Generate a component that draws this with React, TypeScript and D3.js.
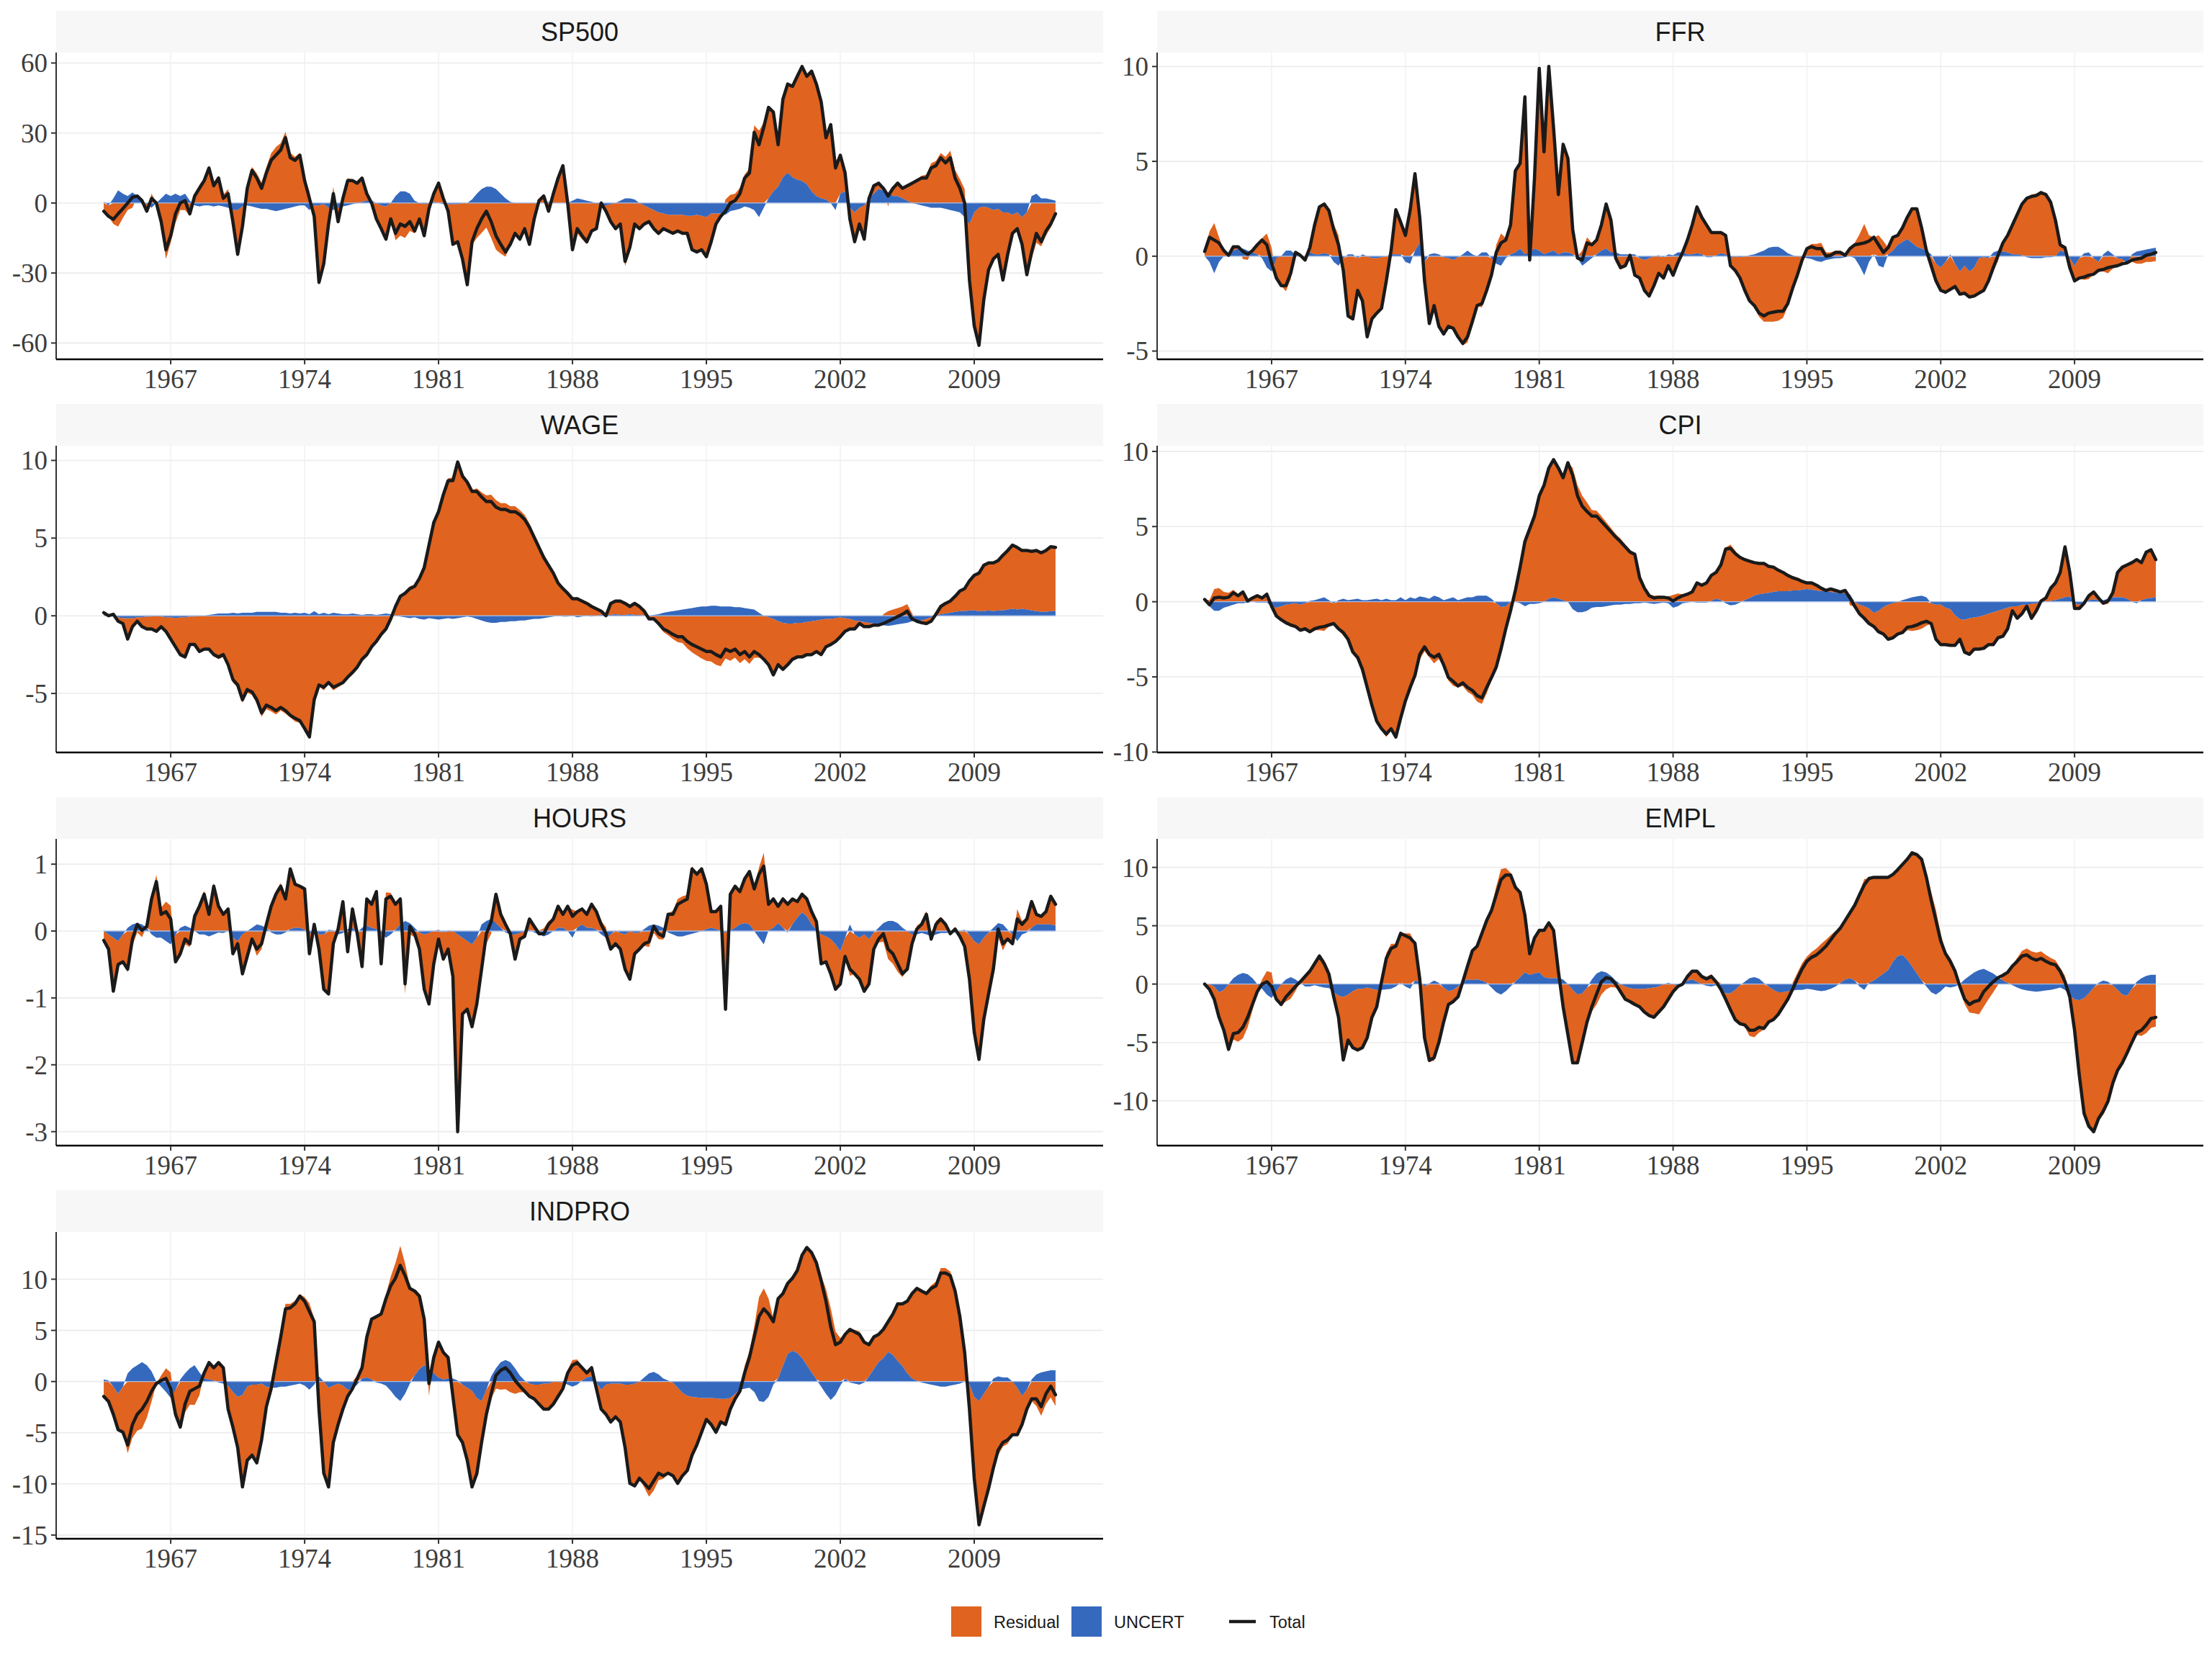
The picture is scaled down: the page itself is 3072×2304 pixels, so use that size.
import React from 'react'
import * as d3 from 'd3'

// quarterly observations, the first one is 1963 Q3
const firstObs = 1963.5
const obsStep = 0.25

const yearTicks = [1967, 1974, 1981, 1988, 1995, 2002, 2009]

const sp500Total = [
  -3.5, -5.7,
  -7, -4.6, -2.4, 0,
  2.5, 3, 1, -3.5,
  2, 0, -8, -20,
  -14, -4.6, 0, 1,
  -4.6, 3, 6.3, 9.6,
  15, 7.4, 10.7, 2,
  4, -8, -22, -10,
  6.3, 14, 10.7, 6.3,
  12.9, 18.3, 20.5, 22.7,
  28, 19.4, 18.3, 20.5,
  9.6, 2, -5.7, -34,
  -26, -9, 4, -8,
  2, 9.6, 9.6, 8.5,
  10.7, 4, 0, -6.8,
  -11, -15.5, -6.8, -13,
  -9, -10, -8, -12,
  -6.8, -14, -2.4, 4,
  8.5, 2, -3.5, -17.7,
  -16.6, -24, -35, -16.6,
  -11, -6.8, -3.5, -8,
  -14, -17.7, -21, -17.7,
  -13, -15.5, -11, -17.7,
  -6.8, 1, 3, -3.5,
  4, 10.7, 16, 0,
  -20, -11, -14, -16.6,
  -12, -11, 0, -3.5,
  -8, -11, -9, -25,
  -19, -9, -11, -9,
  -8, -11, -13, -11,
  -12, -13, -12, -13,
  -13, -20, -21, -20,
  -23, -16.6, -9, -5.7,
  -3.5, 0, 1, 4,
  10.7, 12.9, 30.3, 25,
  32.5, 41, 39, 25,
  44.5, 51, 50, 54.3,
  58.5, 54.3, 56.5, 51,
  43.4, 28, 33.6, 15,
  20.5, 12.9, -6.8, -16.6,
  -9, -15.5, 2, 7.4,
  8.5, 6.3, 3, 6.3,
  8.5, 6.3, 7.4, 8.5,
  9.6, 10.7, 10.7, 15,
  16, 19.4, 17.2, 19.4,
  10.7, 6.3, 0, -33,
  -52.6, -61, -41.5, -28.6,
  -24, -22, -33, -22,
  -13, -11, -17.7, -30.7,
  -21, -13, -16.6, -12,
  -9, -4.6,
]
const sp500Uncert = [
  0.5, -1,
  2, 5.5, 4, 3,
  4.5, 3, 1, -0.5,
  -2, 0, 2, 4,
  3, 4, 3, 4,
  1, -1, -1.5, -1,
  -1, -1.5, -1, -1.5,
  -2, -3, -3, -1.5,
  -1, -1.5, -2, -2.5,
  -2.5, -3, -3.5, -3,
  -2.5, -2, -1.5, -1,
  -1, -3, -1, -1,
  -0.5, -2, -3, -2,
  -1.5, -1, -0.5, 0,
  0.5, 1, 1, 0,
  -1, -1.5, 0, 3,
  5, 5, 4, 1,
  0, -0.5, 0, 0.5,
  0, -0.5, -0.5, -0.5,
  -0.5, 0, 0, 1.5,
  4, 6, 7, 7,
  6, 4, 2, 0.5,
  0, 0, 0, 0,
  0, 0, 0, 0.5,
  0, 0, 0, 0,
  1, 2, 1.5, 1,
  0.5, 0, -1, -1,
  -0.5, 0, 1, 2,
  2, 1.5, 0, -1,
  -2, -3, -4, -4.5,
  -5, -5, -5, -5,
  -5.5, -5.5, -5, -5.5,
  -6, -4.5, -4.5, -4.5,
  -5, -3.5, -3, -2.5,
  -1.5, -2, -3, -6,
  -2, 2, 5, 7,
  11, 13, 11, 10,
  9.5, 8, 5, 3,
  2, 1.5, 0, -3,
  4, 5, -2, -4,
  -2, -1, 2, 4,
  6, 5.5, 4.5, 3,
  3, 2, 1, 0,
  -0.5, -1, -1.5, -2,
  -2, -2, -2.5, -3,
  -3.5, -4, -6, -9,
  -4, -2, -1.5, -2,
  -3, -2.5, -4, -4,
  -5, -4, -6, -4,
  3, 4, 2, 2,
  1.5, 1,
]
const sp500Ticks = [-60, -30, 0, 30, 60]

const ffrTotal = [
  0.25, 1.0,
  0.85, 0.7, 0.3, 0.05,
  0.5, 0.5, 0.25, 0.1,
  0.3, 0.6, 0.85, 0.6,
  -0.35, -1.15, -1.55, -1.55,
  -0.9, 0.2, 0.05, -0.2,
  0.45, 1.65, 2.6, 2.75,
  2.4, 1.4, 0.6, -0.75,
  -3.15, -3.3, -1.8, -2.35,
  -4.25, -3.3, -3.0, -2.75,
  -1.3, 0.3, 2.45, 1.8,
  1.1, 2.45, 4.35, 2.05,
  -1.3, -3.55, -2.6, -3.7,
  -4.1, -3.7, -3.8, -4.25,
  -4.6, -4.25, -3.45, -2.6,
  -2.5, -1.8, -1.0, 0.2,
  0.7, 0.85, 1.65, 4.5,
  4.9, 8.4, -0.2, 4.1,
  9.9, 5.5, 10.0, 6.75,
  3.25, 5.9, 5.15, 1.4,
  -0.1, -0.2, 0.7, 0.6,
  0.85, 1.65, 2.75, 1.9,
  -0.1, -0.6, -0.5, 0.05,
  -1.0, -1.15, -1.8, -2.1,
  -1.55, -0.9, -1.15, -0.5,
  -1.0, -0.35, 0.2, 0.85,
  1.65, 2.6, 2.05, 1.65,
  1.25, 1.25, 1.25, 1.1,
  -0.5, -0.75, -1.15, -1.8,
  -2.35, -2.6, -3.0, -3.15,
  -3.0, -2.95, -2.9, -2.9,
  -2.5, -1.7, -1.0, -0.2,
  0.4, 0.5, 0.4, 0.4,
  0, 0.05, 0.2, 0.2,
  0.05, 0.4, 0.6, 0.65,
  0.7, 0.8, 1.0, 0.6,
  0.2, 0.45, 1.0, 1.1,
  1.5, 2.05, 2.5, 2.5,
  1.5, 0.3, -0.5, -1.3,
  -1.8, -1.9, -1.75, -1.6,
  -2.0, -1.95, -2.15, -2.1,
  -1.95, -1.8, -1.3, -0.6,
  0.05, 0.7, 1.1, 1.65,
  2.2, 2.75, 3.05, 3.15,
  3.2, 3.35, 3.25, 2.85,
  1.9, 0.6, 0.45, -0.6,
  -1.3, -1.15, -1.1, -1.0,
  -0.95, -0.75, -0.7, -0.6,
  -0.55, -0.5, -0.4, -0.35,
  -0.2, -0.15, -0.1, 0.05,
  0.1, 0.2,
]
const ffrUncert = [
  0, -0.3,
  -0.9, -0.3, 0, 0.1,
  0.3, 0.4, 0.4, 0.3,
  0.2, 0.1, -0.1, -0.6,
  -0.8, -0.1, 0, 0.3,
  0.3, 0.1, 0, 0,
  0.2, 0.1, 0.1, 0.15,
  0.1, -0.3, -0.5, -0.1,
  0.1, 0.1, -0.1, 0.1,
  0, -0.1, -0.1, -0.05,
  0, 0.1, 0.1, 0.1,
  -0.3, -0.4, 0.3, 0.7,
  -0.3, 0.1, 0.15, 0.1,
  -0.05, -0.1, -0.2, -0.05,
  0.1, 0.3, 0.1, 0,
  0.2, 0.2, -0.1, -0.4,
  -0.5, -0.1, 0.1, 0.2,
  0.4, 0.1, 0.2, 0.4,
  0.3, 0.1, 0.2, 0.3,
  0.1, 0.2, 0.2, 0.1,
  -0.1, -0.5, -0.3, -0.1,
  0.1, 0.3, 0.4, 0.2,
  0.2, 0.1, 0.1, 0.1,
  0.1, -0.1, -0.2, -0.1,
  0, 0.05, -0.05, 0.1,
  0.05, 0.2, 0.2, 0.1,
  0.1, 0.15, 0.1, -0.05,
  -0.05, 0.05, 0.15, 0.1,
  -0.1, 0, -0.05, 0,
  0.05, 0.1, 0.2, 0.3,
  0.45, 0.5, 0.5, 0.35,
  0.15, 0.05, 0, -0.05,
  -0.1, -0.15, -0.25, -0.3,
  -0.2, -0.15, -0.1, -0.1,
  -0.05, 0, -0.1, -0.5,
  -1.0, -0.3, 0.1, -0.5,
  -0.6, 0.1, 0.3, 0.6,
  0.75, 0.9, 0.7, 0.5,
  0.4, 0.3, 0.1, -0.4,
  -0.6, -0.3, 0.1, -0.4,
  -0.8, -0.5, -0.8, -0.6,
  -0.1, -0.05, -0.1, 0.2,
  0.3, 0.25, 0.2, 0.1,
  0.1, 0.05, -0.05, -0.1,
  -0.1, -0.1, -0.05, -0.05,
  0, 0.3, 0.2, -0.1,
  -0.5, -0.1, 0.15, 0.2,
  -0.1, -0.3, 0.1, 0.3,
  0.1, -0.1, -0.15, -0.4,
  0.1, 0.25, 0.3, 0.35,
  0.4, 0.45,
]
const ffrTicks = [-5, 0, 5, 10]

const wageTotal = [
  0.2, 0,
  0.1, -0.35, -0.5, -1.5,
  -0.7, -0.35, -0.7, -0.85,
  -0.85, -1.0, -0.7, -1.0,
  -1.5, -2.0, -2.5, -2.65,
  -1.85, -1.85, -2.3, -2.15,
  -2.15, -2.5, -2.65, -2.5,
  -3.15, -4.1, -4.45, -5.4,
  -4.75, -4.9, -5.4, -6.25,
  -5.75, -5.9, -6.1, -5.9,
  -6.1, -6.4, -6.6, -6.75,
  -7.25, -7.8, -5.4, -4.45,
  -4.6, -4.3, -4.6, -4.45,
  -4.3, -3.95, -3.65, -3.3,
  -2.8, -2.5, -2.0, -1.65,
  -1.2, -0.85, -0.2, 0.6,
  1.25, 1.45, 1.75, 1.9,
  2.4, 3.1, 4.55, 6.0,
  6.7, 7.8, 8.7, 8.7,
  9.9, 9.0, 8.6, 8.0,
  8.0, 7.65, 7.35, 7.35,
  7.0, 6.85, 6.85, 6.7,
  6.7, 6.5, 6.2, 5.7,
  5.05, 4.4, 3.75, 3.25,
  2.75, 2.1, 1.75, 1.45,
  1.1, 1.1, 0.95, 0.8,
  0.6, 0.45, 0.3, 0,
  0.8, 0.95, 0.95, 0.8,
  0.6, 0.8, 0.6, 0.3,
  -0.2, -0.2, -0.5, -0.85,
  -1.0, -1.2, -1.35, -1.35,
  -1.65, -1.85, -2.0, -2.15,
  -2.3, -2.3, -2.5, -2.65,
  -2.15, -2.3, -2.15, -2.5,
  -2.3, -2.65, -2.3, -2.5,
  -2.8, -3.15, -3.8, -3.15,
  -3.45, -3.15, -2.8, -2.65,
  -2.65, -2.5, -2.5, -2.3,
  -2.5, -2.0, -1.85, -1.65,
  -1.35, -1.0, -0.85, -0.85,
  -0.5, -0.7, -0.7, -0.6,
  -0.6, -0.5, -0.35, -0.2,
  -0.05, 0.1, 0.3, -0.2,
  -0.35, -0.45, -0.5, -0.35,
  0.1, 0.6, 0.8, 0.95,
  1.25, 1.6, 1.75, 2.25,
  2.6, 2.75, 3.25, 3.4,
  3.4, 3.55, 3.9, 4.2,
  4.55, 4.4, 4.2, 4.2,
  4.15, 4.2, 4.05, 4.2,
  4.45, 4.4,
]
const wageUncert = [
  0, 0,
  -0.05, -0.1, -0.15, -0.15,
  -0.15, -0.1, -0.1, -0.05,
  -0.05, 0, -0.05, -0.1,
  -0.1, -0.15, -0.1, -0.1,
  -0.05, -0.05, 0, 0,
  0.05, 0.1, 0.15, 0.15,
  0.15, 0.2, 0.15, 0.2,
  0.2, 0.2, 0.25, 0.25,
  0.25, 0.25, 0.25, 0.2,
  0.2, 0.15, 0.2, 0.15,
  0.2, 0.1, 0.3, 0.1,
  0.2, 0.1, 0.2, 0.15,
  0.1, 0.1, 0.15, 0.1,
  0.05, 0.1, 0.1, 0.05,
  0.1, 0.15, 0.1, 0,
  -0.05, -0.1, -0.15, -0.1,
  -0.2, -0.25, -0.15, -0.2,
  -0.25, -0.2, -0.15, -0.2,
  -0.15, -0.1, -0.05, -0.1,
  -0.2, -0.3, -0.4, -0.45,
  -0.45, -0.4, -0.4, -0.35,
  -0.35, -0.3, -0.3, -0.25,
  -0.2, -0.2, -0.15, -0.1,
  -0.05, 0, -0.05, -0.05,
  0, -0.1, -0.05, 0,
  -0.05, 0, 0.05, 0.05,
  0.05, 0.1, 0.05, 0.05,
  0.1, 0.05, 0.05, 0,
  0, 0.05, 0.1, 0.2,
  0.25, 0.3, 0.35, 0.4,
  0.45, 0.5, 0.55, 0.6,
  0.6, 0.65, 0.65, 0.6,
  0.6, 0.6, 0.55, 0.55,
  0.5, 0.45, 0.4, 0.2,
  0, -0.1, -0.2, -0.35,
  -0.45, -0.5, -0.5, -0.45,
  -0.45, -0.4, -0.35, -0.3,
  -0.25, -0.2, -0.2, -0.15,
  -0.1, -0.15, -0.2, -0.3,
  -0.35, -0.4, -0.45, -0.5,
  -0.55, -0.6, -0.65, -0.6,
  -0.55, -0.5, -0.45, -0.35,
  -0.3, -0.3, -0.2, -0.1,
  0, 0.1, 0.15, 0.2,
  0.25, 0.3, 0.3, 0.35,
  0.35, 0.3, 0.3, 0.35,
  0.3, 0.35, 0.35, 0.4,
  0.45, 0.4, 0.45, 0.4,
  0.35, 0.3, 0.25, 0.25,
  0.3, 0.3,
]
const wageTicks = [-5, 0, 5, 10]

const cpiTotal = [
  0.15, -0.2,
  0.25, 0.3, 0.25, 0.3,
  0.6, 0.4, 0.65, 0.05,
  0.25, 0.4, 0.25, 0.5,
  -0.3, -0.95, -1.2, -1.4,
  -1.55, -1.65, -1.9, -1.8,
  -2.0, -1.8, -1.7, -1.65,
  -1.55, -1.45, -1.8, -2.05,
  -2.5, -3.35, -3.7, -4.5,
  -5.7, -6.9, -7.95, -8.45,
  -8.8, -8.45, -9.0, -7.75,
  -6.6, -5.7, -4.9, -3.5,
  -3.0, -3.5, -3.7, -3.5,
  -4.2, -5.05, -5.3, -5.6,
  -5.4, -5.7, -5.9, -6.25,
  -6.4, -5.7, -5.05, -4.35,
  -3.15, -1.8, -0.6, 0.75,
  2.3, 4.0, 4.85, 5.7,
  7.05, 7.75, 8.9, 9.45,
  8.9, 8.25, 9.25, 8.4,
  7.05, 6.35, 6.0, 5.7,
  5.7, 5.35, 5.0, 4.65,
  4.3, 4.0, 3.65, 3.3,
  3.15, 1.6, 0.9, 0.4,
  0.25, 0.3, 0.3, 0.25,
  0.05, 0.25, 0.4, 0.5,
  0.65, 1.25, 1.1, 1.25,
  1.75, 1.95, 2.45, 3.5,
  3.55, 3.2, 2.95, 2.8,
  2.7, 2.6, 2.55, 2.55,
  2.35, 2.3, 2.1, 1.95,
  1.75, 1.6, 1.5, 1.35,
  1.25, 1.25, 1.1, 0.9,
  0.75, 0.85, 0.75, 0.65,
  0.75, 0.25, -0.3, -0.8,
  -1.1, -1.45, -1.65, -2.0,
  -2.15, -2.5, -2.4, -2.15,
  -2.05, -1.7, -1.65, -1.55,
  -1.4, -1.3, -1.45, -2.5,
  -2.85, -2.85, -2.9, -2.9,
  -2.5, -3.35, -3.5, -3.15,
  -3.15, -3.1, -2.85, -2.85,
  -2.4, -2.3, -1.8, -0.6,
  -1.1, -0.8, -0.3, -1.1,
  -0.6, 0.05, 0.25, 0.9,
  1.25, 1.95, 3.65, 1.95,
  -0.45, -0.45, -0.1, 0.4,
  0.65, 0.25, -0.1, 0.05,
  0.6, 1.95, 2.3, 2.45,
  2.6, 2.8, 2.6, 3.3,
  3.45, 2.8,
]
const cpiUncert = [
  0, -0.3,
  -0.6, -0.6, -0.4, -0.3,
  -0.2, -0.1, -0.1, -0.05,
  0, -0.05, -0.05, -0.05,
  -0.3, -0.4, -0.3, -0.2,
  -0.15, -0.1, -0.2, -0.1,
  0.05, 0.1, 0.2, 0.3,
  0.1, -0.1, 0.1, 0.2,
  0.1, 0.15, 0.2, 0.1,
  0.1, 0.15, 0.2, 0.1,
  0.2, 0.1, 0.1, 0.3,
  0.1, 0.3, 0.2, 0.35,
  0.3, 0.2, 0.4, 0.3,
  0.1, 0.2, 0.3, 0.1,
  0.2, 0.3, 0.3, 0.4,
  0.4, 0.4, 0.2, -0.1,
  -0.35, -0.3, 0, 0,
  -0.1, -0.3, -0.15, -0.15,
  -0.1, 0, 0.2, 0.3,
  0.2, 0.1, 0, -0.5,
  -0.7, -0.7, -0.6, -0.4,
  -0.35, -0.35, -0.3, -0.25,
  -0.2, -0.2, -0.15, -0.15,
  -0.1, -0.1, -0.05, -0.1,
  -0.15, -0.1, -0.05, -0.1,
  -0.4, -0.3, -0.1, -0.05,
  0, -0.05, -0.05, -0.05,
  0.05, 0.2, 0.1, -0.1,
  -0.25, -0.2, -0.05, 0.1,
  0.25, 0.4, 0.5, 0.55,
  0.6, 0.65, 0.7, 0.7,
  0.7, 0.75, 0.75, 0.8,
  0.85, 0.8, 0.75, 0.7,
  0.7, 0.65, 0.6, 0.6,
  0.55, 0.5, 0, -0.2,
  -0.3, -0.45, -0.75, -0.6,
  -0.35, -0.2, -0.1, 0,
  0.1, 0.2, 0.3, 0.35,
  0.4, 0.3, -0.1, -0.2,
  -0.2, -0.4, -0.5, -0.9,
  -1.15, -1.2, -1.1, -1.05,
  -1.0, -0.9, -0.8, -0.7,
  -0.6, -0.5, -0.4, -0.3,
  -0.3, -0.2, -0.2, -0.15,
  -0.1, -0.05, 0, 0.05,
  0.1, 0.2, 0.3, 0.35,
  -0.1, -0.2, -0.1, 0.1,
  0.15, 0.1, 0.1, 0.2,
  0.3, 0.3, 0.3, 0.2,
  0, -0.1, 0.1, 0.2,
  0.25, 0.3,
]
const cpiTicks = [-10, -5, 0, 5, 10]

const hoursTotal = [
  -0.14, -0.27,
  -0.9, -0.5, -0.46, -0.57,
  -0.12, 0.1, 0.01, 0.07,
  0.48, 0.74, 0.25, 0.29,
  0.18, -0.46, -0.34, -0.12,
  -0.19, 0.22, 0.37, 0.55,
  0.25, 0.67, 0.37, 0.25,
  0.33, -0.34, -0.19, -0.64,
  -0.38, -0.12, -0.27, -0.19,
  0.1, 0.37, 0.55, 0.67,
  0.48, 0.93, 0.7, 0.67,
  0.63, -0.34, 0.1, -0.27,
  -0.87, -0.94, -0.19, 0.03,
  0.44, -0.31, 0.33, -0.04,
  -0.53, 0.48, 0.4, 0.59,
  -0.49, 0.48, 0.52, 0.4,
  0.48, -0.79, 0.07, -0.04,
  -0.27, -0.87, -1.09, -0.49,
  -0.12, -0.42, -0.27, -0.68,
  -3.0, -1.24, -1.17, -1.43,
  -1.09, -0.57, -0.04, 0.14,
  0.55, 0.25, 0.1, -0.04,
  -0.42, -0.12, -0.08, 0.18,
  0.07, -0.04, -0.04, 0.1,
  0.18, 0.37, 0.25, 0.37,
  0.22, 0.29, 0.33, 0.25,
  0.4, 0.29, 0.1, -0.04,
  -0.27, -0.19, -0.27, -0.57,
  -0.72, -0.34, -0.27, -0.19,
  -0.16, 0.07, -0.04, -0.08,
  0.25, 0.25, 0.4, 0.44,
  0.48, 0.93, 0.85, 0.93,
  0.7, 0.29, 0.29, 0.37,
  -1.17, 0.55, 0.67, 0.59,
  0.78, 0.89, 0.63, 0.85,
  0.97, 0.4, 0.48, 0.37,
  0.48, 0.4, 0.48, 0.44,
  0.55, 0.48, 0.29, 0.14,
  -0.49, -0.46, -0.64, -0.87,
  -0.79, -0.38, -0.57, -0.64,
  -0.72, -0.9, -0.79, -0.27,
  -0.12, -0.04, -0.27, -0.34,
  -0.49, -0.64, -0.57, -0.19,
  0.03, 0.1, 0.25, -0.12,
  0.1, 0.18, 0.1, -0.04,
  0.03, -0.08, -0.23, -0.72,
  -1.51, -1.92, -1.32, -0.94,
  -0.57, 0.03, -0.19, -0.12,
  -0.19, 0.18, 0.1, 0.18,
  0.44, 0.25, 0.22, 0.29,
  0.52, 0.4,
]
const hoursUncert = [
  0, -0.05,
  -0.1, -0.15, -0.05, 0.05,
  0.1, 0.12, 0.1, 0.05,
  -0.05, -0.1, -0.1, -0.15,
  -0.2, -0.05, 0.05, 0.08,
  0.05, 0, -0.05, -0.05,
  -0.08, -0.05, -0.02, -0.03,
  0, -0.1, -0.15, -0.05,
  0, 0.05, 0.1, 0.08,
  0.05, -0.02, -0.05, -0.05,
  -0.02, 0.03, 0.05, 0.05,
  0.02, -0.05, 0.05, -0.05,
  -0.05, 0.02, 0.01, -0.05,
  -0.03, 0.03, 0.05, -0.02,
  0.05, 0.08, 0.05, 0.03,
  -0.05, -0.1, -0.05, 0.02,
  0.1, 0.15, 0.12, 0.05,
  -0.02, -0.05, -0.03, 0,
  0.02, -0.02, 0.01, 0,
  -0.05, -0.1, -0.15, -0.2,
  -0.1, 0.1, 0.15, 0.18,
  0.12, 0.05, -0.02, -0.05,
  -0.05, -0.03, 0, 0.02,
  -0.02, -0.05, -0.08, -0.05,
  0, 0.05, 0.05, 0,
  -0.1, 0.05, 0.1, 0.05,
  0.05, 0.02, -0.05, -0.1,
  -0.05, 0.01, -0.03, -0.05,
  0, -0.03, -0.02, 0.03,
  0.08, 0.1, 0.08, 0.05,
  -0.02, -0.05, -0.08, -0.08,
  -0.06, -0.04, -0.02, 0,
  0.03, 0.05, 0.03, 0,
  -0.02, 0.01, 0.05, 0.1,
  0.12, 0.1, 0, -0.1,
  -0.2, 0.01, 0.05, 0.12,
  0.05, -0.02, 0.1, 0.2,
  0.28, 0.22, 0.1, 0.02,
  -0.05, -0.08, -0.12, -0.2,
  -0.3, -0.1, 0.1, -0.05,
  -0.1, -0.05, -0.12, -0.02,
  0.05, 0.12, 0.15, 0.15,
  0.12, 0.05, 0, -0.05,
  -0.05, -0.03, -0.05, -0.08,
  -0.05, -0.03, -0.03, -0.02,
  -0.02, 0, 0.02, -0.05,
  -0.15, -0.2, -0.1, -0.02,
  0.05, 0.12, 0.1, 0.02,
  -0.05, -0.15, -0.05, -0.02,
  0.05, 0.1, 0.1, 0.1,
  0.1, 0.08,
]
const hoursTicks = [-3, -2, -1, 0, 1]

const emplTotal = [
  0, -0.45,
  -1.3, -2.85, -3.95, -5.6,
  -4.25, -4.15, -3.7, -2.85,
  -1.75, -0.65, 0, 0.2,
  -0.2, -1.3, -1.75, -1.1,
  -0.65, -0.2, 0.2, 0.65,
  1.1, 1.75, 2.4, 1.75,
  0.85, -1.1, -2.85, -6.5,
  -4.8, -5.45, -5.65, -5.45,
  -4.6, -2.85, -1.95, 0.2,
  2.2, 3.05, 3.25, 4.35,
  4.15, 3.95, 3.5, 0.45,
  -4.6, -6.55, -6.3, -5.0,
  -3.25, -1.75, -1.5, -1.1,
  0.2, 1.55, 2.85, 3.25,
  4.35, 5.45, 6.3, 7.65,
  8.95, 9.35, 9.35, 8.3,
  7.85, 5.9, 2.6, 3.95,
  4.6, 4.6, 5.25, 4.6,
  1.1, -1.95, -4.35, -6.75,
  -6.75, -5.0, -3.25, -1.95,
  -0.85, 0.2, 0.55, 0.45,
  0, -0.65, -1.3, -1.5,
  -1.75, -1.95, -2.4, -2.7,
  -2.85, -2.4, -1.95, -1.3,
  -0.65, -0.2, 0, 0.65,
  1.1, 1.1, 0.65, 0.45,
  0.65, 0.2, -0.45, -1.3,
  -2.2, -3.05, -3.4, -3.5,
  -3.95, -3.95, -3.7, -3.8,
  -3.25, -3.05, -2.6, -1.95,
  -1.3, -0.45, 0.45, 1.3,
  1.95, 2.3, 2.5, 2.85,
  3.25, 3.8, 4.35, 4.8,
  5.45, 6.1, 6.75, 7.65,
  8.5, 9.05, 9.15, 9.15,
  9.15, 9.15, 9.4, 9.8,
  10.25, 10.7, 11.25, 11.1,
  10.7, 9.15, 7.2, 5.45,
  3.7, 2.6, 1.95, 1.1,
  -0.2, -1.3, -1.75, -1.5,
  -1.4, -0.65, -0.2, 0.2,
  0.55, 0.75, 1.0, 1.55,
  1.95, 2.4, 2.5, 2.2,
  2.05, 2.2, 1.95, 1.75,
  1.65, 1.1, 0.2, -1.1,
  -3.95, -7.85, -11.1, -12.2,
  -12.65, -11.55, -10.9, -10.05,
  -8.5, -7.4, -6.75, -5.9,
  -5.0, -4.15, -3.95, -3.5,
  -2.95, -2.85,
]
const emplUncert = [
  0, 0,
  -0.2, -0.7, -0.5, 0,
  0.5, 0.8, 0.95, 0.85,
  0.5, 0, -0.4, -0.9,
  -1.2, -0.6, 0, 0.4,
  0.6, 0.4, 0.1, -0.2,
  -0.2, -0.1, -0.2, -0.3,
  -0.35, -0.7, -1.0, -1.1,
  -0.9, -0.6, -0.4, -0.4,
  -0.3, -0.4, -0.5, -0.5,
  -0.45, -0.4, -0.2, 0.1,
  -0.2, -0.4, 0.3, 0.2,
  -0.2, 0.05, 0.3, 0.1,
  -0.3, -0.6, -0.5, -0.2,
  0.2, 0.4, 0.35, 0.4,
  0.3, 0.1, -0.3, -0.7,
  -0.9, -0.6, -0.2, 0.2,
  0.6, 1.0, 0.8, 0.9,
  1.0, 0.6, 0.5, 0.5,
  0.5, 0.4, 0, -0.5,
  -0.9, -0.8, -0.3, 0.4,
  0.9, 1.1, 1.0, 0.7,
  0.3, 0, -0.2, -0.35,
  -0.4, -0.4, -0.4, -0.35,
  -0.3, -0.2, 0, 0.1,
  0, -0.15, 0, 0.3,
  0.4, 0.2, 0, -0.15,
  -0.2, -0.1, -0.5, -0.8,
  -0.8, -0.5, -0.1, 0.2,
  0.5, 0.6, 0.45, 0.1,
  -0.2, -0.5, -0.7, -0.7,
  -0.6, -0.55, -0.5, -0.5,
  -0.4, -0.45, -0.55, -0.6,
  -0.55, -0.4, -0.2, 0.1,
  0.4, 0.5, 0.3, -0.2,
  -0.5, 0.1, 0.3, 0.6,
  0.9, 1.2, 1.9, 2.4,
  2.5, 2.1, 1.5, 0.9,
  0.3, -0.2, -0.7, -0.9,
  -0.6, -0.2, -0.3, -0.2,
  0, 0.4, 0.7, 1.0,
  1.2, 1.3, 1.1, 0.9,
  0.6, 0.3, 0.1, -0.1,
  -0.3, -0.45, -0.55, -0.6,
  -0.65, -0.6, -0.55, -0.5,
  -0.4, -0.3, -0.5, -1.0,
  -1.3, -1.4, -1.2, -0.8,
  -0.3, 0.1, 0.3, 0.2,
  -0.1, -0.5, -0.9, -1.0,
  -0.4, 0.2, 0.5, 0.7,
  0.8, 0.8,
]
const emplTicks = [-10, -5, 0, 5, 10]

const indproTotal = [
  -1.45, -1.95,
  -3.2, -4.7, -4.95, -6.2,
  -4.2, -3.2, -2.7, -1.95,
  -0.95, -0.2, 0.1, 0.3,
  -0.7, -3.2, -4.45, -2.2,
  -0.95, -0.7, -0.45, 0.85,
  1.85, 1.35, 1.85, 1.35,
  -2.7, -4.45, -6.45, -10.3,
  -7.7, -7.2, -7.95, -5.7,
  -2.45, -0.7, 1.85, 4.35,
  7.1, 7.2, 7.6, 8.35,
  7.85, 6.85, 5.85, -2.7,
  -8.95, -10.3, -5.95, -4.2,
  -2.7, -1.45, -0.7, 0.3,
  1.35, 4.35, 6.1, 6.35,
  6.6, 8.1, 9.35, 10.1,
  11.35, 10.35, 9.1, 8.85,
  8.35, 6.1, -0.2, 2.35,
  3.85, 2.85, 2.35, -1.45,
  -5.2, -5.95, -7.7, -10.3,
  -9.0, -5.95, -3.2, -1.2,
  0.6, 1.1, 1.35, 0.85,
  0.1, -0.45, -0.95, -1.45,
  -1.7, -2.2, -2.7, -2.7,
  -2.2, -1.45, -0.7, 0.85,
  1.6, 1.85, 1.35, 0.85,
  1.35, -0.7, -2.7, -3.2,
  -3.95, -3.45, -3.95, -6.45,
  -9.95, -10.2, -9.45, -9.95,
  -10.45, -9.7, -8.95, -9.2,
  -8.95, -9.2, -9.95, -9.2,
  -8.7, -7.2, -6.2, -4.95,
  -3.7, -4.2, -4.95, -3.95,
  -4.2, -2.7, -1.7, -0.95,
  0.85, 2.35, 4.35, 6.35,
  7.1, 6.6, 5.85, 8.1,
  8.6, 9.6, 10.1, 10.85,
  12.35, 13.1, 12.6, 11.6,
  9.85, 7.85, 5.35, 3.6,
  3.85, 4.6, 5.1, 4.85,
  4.6, 3.85, 3.6, 4.35,
  4.6, 5.1, 5.85, 6.6,
  7.6, 7.6, 7.85, 8.6,
  9.1, 8.85, 8.6, 9.1,
  9.35, 10.6, 10.6, 10.35,
  8.85, 6.35, 2.85, -2.7,
  -9.45, -14.0, -12.2, -10.45,
  -8.45, -6.7, -5.95, -5.7,
  -5.2, -5.2, -4.2, -2.7,
  -1.7, -1.7, -2.45, -1.2,
  -0.45, -1.3,
]
const indproUncert = [
  0.2, 0.1,
  -0.5, -1.2, -0.5, 0.8,
  1.3, 1.6, 1.9, 1.6,
  1.0, 0, -0.5, -1.0,
  -1.6, -0.8, 0.2, 0.8,
  1.3, 1.6, 0.9, 0.3,
  0.2, 0.1, -0.1, -0.2,
  -0.4, -1.0, -1.5, -1.3,
  -0.5, -0.3, -0.3, -0.2,
  -0.5, -0.6, -0.6, -0.5,
  -0.5, -0.4, -0.3, -0.2,
  -0.4, -0.8, -0.3, 0.5,
  0, -0.6, -0.4, -0.2,
  -0.4, -0.8, -0.7, -0.3,
  0.3, 0.4, 0.2, -0.1,
  -0.2, -0.4, -0.9, -1.5,
  -1.9, -1.2, -0.2, 0.6,
  1.2, 1.6, 1.2, 0.8,
  0.4, 0.2, 0.3, 0.3,
  0.1, -0.3, -0.6, -0.9,
  -1.6, -1.9, -0.8, 0.5,
  1.3, 1.9, 2.1, 1.9,
  1.3, 0.6, 0.1, -0.2,
  -0.3, -0.3, -0.2, -0.2,
  0, 0.05, -0.1, -0.3,
  -0.5, -0.3, 0.1, 0.4,
  0.5, -0.1, -0.8, -0.3,
  -0.2, -0.2, -0.2, -0.3,
  -0.3, -0.2, 0, 0.4,
  0.8, 0.95, 0.7, 0.3,
  0.1, -0.1, -0.6, -1.1,
  -1.4, -1.5, -1.55, -1.6,
  -1.6, -1.6, -1.65, -1.7,
  -1.7, -1.6, -1.2, -0.8,
  -0.7, -0.6, -1.0, -1.9,
  -2.0, -1.5, -0.3, 0.3,
  1.5, 2.7, 3.0, 2.8,
  2.3, 1.6, 0.9, 0.2,
  -0.5, -1.2, -1.8, -1.3,
  -0.4, 0.3, -0.1, -0.2,
  -0.3, -0.1, 0.5, 1.2,
  1.9, 2.3, 2.9, 2.6,
  2.0, 1.5, 0.8, 0.3,
  0.1, -0.1, -0.2, -0.3,
  -0.4, -0.5, -0.5, -0.4,
  -0.3, -0.2, 0, -0.3,
  -1.5, -1.9, -1.2, -0.5,
  0.3, 0.5, 0.4, 0.4,
  0, -0.6, -1.4, -0.8,
  0.2, 0.7, 0.9, 1.0,
  1.1, 1.1,
]
const indproTicks = [-15, -10, -5, 0, 5, 10]

const legendLabels = ['Residual', 'UNCERT', 'Total']

const panels = [
  { name: 'SP500', total: sp500Total, uncert: sp500Uncert, ticks: sp500Ticks },
  { name: 'FFR', total: ffrTotal, uncert: ffrUncert, ticks: ffrTicks },
  { name: 'WAGE', total: wageTotal, uncert: wageUncert, ticks: wageTicks },
  { name: 'CPI', total: cpiTotal, uncert: cpiUncert, ticks: cpiTicks },
  { name: 'HOURS', total: hoursTotal, uncert: hoursUncert, ticks: hoursTicks },
  { name: 'EMPL', total: emplTotal, uncert: emplUncert, ticks: emplTicks },
  { name: 'INDPRO', total: indproTotal, uncert: indproUncert, ticks: indproTicks },
]

const WIDTH = 3072
const HEIGHT = 2304
const RESIDUAL_COLOR = '#e0631f'
const UNCERT_COLOR = '#3569be'
const TOTAL_COLOR = '#1a1a1a'
const COLUMNS = [
  { left: 78, right: 1532 },
  { left: 1607, right: 3060 },
]
const ROW_TOP = 15
const ROW_STEP = 546
const STRIP_H = 58
const PANEL_H = 426
const SERIF = '"Liberation Serif", "DejaVu Serif", serif'
const SANS = '"Liberation Sans", Arial, sans-serif'

interface Row {
  t: number
  tot: number
  u: number
  r0: number
  r1: number
}

interface PanelSpec {
  name: string
  total: number[]
  uncert: number[]
  ticks: number[]
}

const Panel: React.FC<{ spec: PanelSpec; index: number }> = ({ spec, index }) => {
  const col = COLUMNS[index % 2]
  const top = ROW_TOP + Math.floor(index / 2) * ROW_STEP
  const plotTop = top + STRIP_H
  const plotBottom = plotTop + PANEL_H

  // stack like ggplot: UNCERT next to zero, Residual on top of it when signs agree
  const rows: Row[] = spec.total.map((tot, i) => {
    const u = spec.uncert[i]
    const r = tot - u
    const base = (r >= 0) === (u >= 0) ? u : 0
    return { t: firstObs + i * obsStep, tot, u, r0: base, r1: base + r }
  })

  const [t0, t1] = d3.extent(rows, d => d.t) as [number, number]
  const tPad = (t1 - t0) * 0.05
  const x = d3.scaleLinear().domain([t0 - tPad, t1 + tPad]).range([col.left, col.right])

  const lo = d3.min(rows, d => Math.min(0, d.u, d.r0, d.r1, d.tot)) as number
  const hi = d3.max(rows, d => Math.max(0, d.u, d.r0, d.r1, d.tot)) as number
  const yPad = (hi - lo) * 0.05
  const y = d3.scaleLinear().domain([lo - yPad, hi + yPad]).range([plotBottom, plotTop])

  const uncertArea = d3.area<Row>().x(d => x(d.t)).y0(y(0)).y1(d => y(d.u))
  const residualArea = d3.area<Row>().x(d => x(d.t)).y0(d => y(d.r0)).y1(d => y(d.r1))
  const totalLine = d3.line<Row>().x(d => x(d.t)).y(d => y(d.tot))

  return (
    <g>
      <rect x={col.left} y={top} width={col.right - col.left} height={STRIP_H} fill="#f7f7f7" />
      <text
        x={(col.left + col.right) / 2}
        y={top + 42}
        textAnchor="middle"
        fontFamily={SANS}
        fontSize={36}
        fill="#1a1a1a"
      >
        {spec.name}
      </text>

      {/* grid */}
      {spec.ticks.map(t => (
        <line key={'gy' + t} x1={col.left} x2={col.right} y1={y(t)} y2={y(t)} stroke="#ebebeb" strokeWidth={1.6} />
      ))}
      {yearTicks.map(yr => (
        <line key={'gx' + yr} x1={x(yr)} x2={x(yr)} y1={plotTop} y2={plotBottom} stroke="#f0f0f0" strokeWidth={1.4} />
      ))}

      <path d={residualArea(rows) || ''} fill={RESIDUAL_COLOR} />
      <path d={uncertArea(rows) || ''} fill={UNCERT_COLOR} />
      <line
        x1={x(t0)}
        x2={x(t1)}
        y1={y(0)}
        y2={y(0)}
        stroke="#a9bde4"
        strokeWidth={1.3}
      />
      <path
        d={totalLine(rows) || ''}
        fill="none"
        stroke={TOTAL_COLOR}
        strokeWidth={4.5}
        strokeLinejoin="round"
        strokeLinecap="round"
      />

      {/* axes */}
      <line x1={col.left} x2={col.left} y1={plotTop} y2={plotBottom} stroke="#000" strokeWidth={1.6} />
      <line x1={col.left} x2={col.right} y1={plotBottom} y2={plotBottom} stroke="#000" strokeWidth={2.6} />
      {spec.ticks.map(t => (
        <g key={'ty' + t}>
          <line x1={col.left - 7} x2={col.left} y1={y(t)} y2={y(t)} stroke="#333" strokeWidth={2} />
          <text
            x={col.left - 12}
            y={y(t)}
            dy="0.35em"
            textAnchor="end"
            fontFamily={SERIF}
            fontSize={37}
            fill="#3d3d3d"
          >
            {t}
          </text>
        </g>
      ))}
      {yearTicks.map(yr => (
        <g key={'tx' + yr}>
          <line x1={x(yr)} x2={x(yr)} y1={plotBottom} y2={plotBottom + 7} stroke="#333" strokeWidth={2} />
          <text
            x={x(yr)}
            y={plotBottom + 40}
            textAnchor="middle"
            fontFamily={SERIF}
            fontSize={37}
            fill="#3d3d3d"
          >
            {yr}
          </text>
        </g>
      ))}
    </g>
  )
}

const Legend: React.FC = () => {
  const keyY = 2231
  const keySize = 42
  const textY = 2261
  const lineY = keyY + keySize / 2
  return (
    <g fontFamily={SANS} fontSize={23.5} fill="#1a1a1a">
      <rect x={1321} y={keyY} width={keySize} height={keySize} fill={RESIDUAL_COLOR} />
      <text x={1380} y={textY}>{legendLabels[0]}</text>
      <rect x={1488} y={keyY} width={keySize} height={keySize} fill={UNCERT_COLOR} />
      <text x={1547} y={textY}>{legendLabels[1]}</text>
      <line x1={1707} x2={1744} y1={lineY} y2={lineY} stroke={TOTAL_COLOR} strokeWidth={4.5} />
      <text x={1763} y={textY}>{legendLabels[2]}</text>
    </g>
  )
}

export default function App() {
  return (
    <svg
      width={WIDTH}
      height={HEIGHT}
      viewBox={`0 0 ${WIDTH} ${HEIGHT}`}
      style={{ position: 'absolute', left: 0, top: 0, background: '#fff' }}
    >
      <rect width={WIDTH} height={HEIGHT} fill="#fff" />
      {panels.map((p, i) => (
        <Panel key={p.name} spec={p} index={i} />
      ))}
      <Legend />
    </svg>
  )
}
